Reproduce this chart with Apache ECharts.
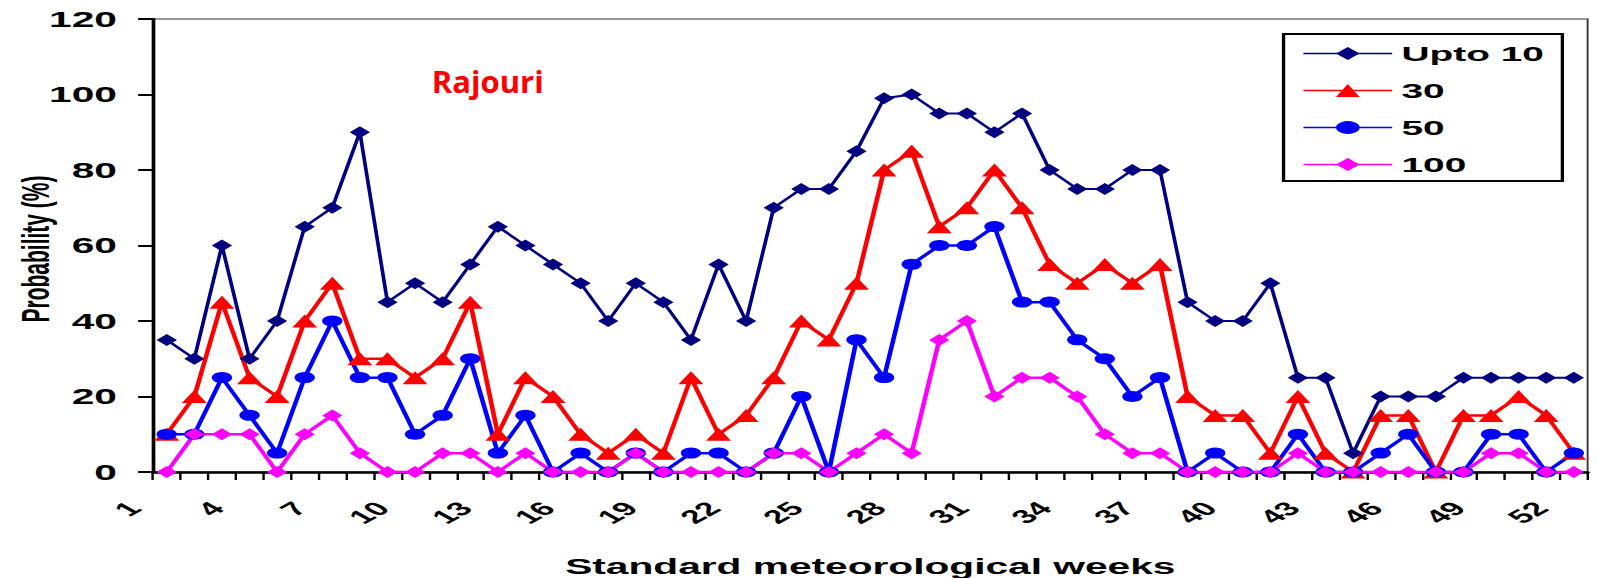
<!DOCTYPE html>
<html><head><meta charset="utf-8">
<script src="https://cdn.jsdelivr.net/npm/echarts@6.0.0/dist/echarts.min.js"></script>
<style>
html,body{margin:0;padding:0;background:#fff;overflow:hidden;}
#c{width:864px;height:578px;transform:scaleX(1.8495);transform-origin:0 0;}
</style></head><body><div id="c"></div>
<script>
// Standard meteorological weeks
const weeks = ['1','2','3','4','5','6','7','8','9','10','11','12','13','14','15','16','17','18','19','20','21','22','23','24','25','26','27','28','29','30','31','32','33','34','35','36','37','38','39','40','41','42','43','44','45','46','47','48','49','50','51','52'];
// Probability (%) per rainfall threshold
const upto10 = [35,30,60,30,40,65,70,90,45,50, 45,55,65,60,55,50,40,50,45,35, 55,40,70,75,75,85,99,100,95,95, 90,95,80,75,75,80,80,45,40,40, 50,25,25,5,20,20,20,25,25,25, 25,25];
const p30    = [10,20,45,25,20,40,50,30,30,25, 30,45,10,25,20,10,5,10,5,25, 10,15,25,40,35,50,80,85,65,70, 80,70,55,50,55,50,55,20,15,15, 5,20,5,0,15,15,0,15,15,20, 15,5];
const p50    = [10,10,25,15,5,25,40,25,25,10, 15,30,5,15,0,5,0,5,0,5, 5,0,5,20,0,35,25,55,60,60, 65,45,45,35,30,20,25,0,5,0, 0,10,0,0,5,10,0,0,10,10, 0,5];
const p100   = [0,10,10,10,0,10,15,5,0,0, 5,5,0,5,0,0,0,5,0,0, 0,0,5,5,0,5,10,5,35,40, 20,25,25,20,10,5,5,0,0,0, 0,5,0,0,0,0,0,0,5,5, 0,0];
const seriesNames = ['Upto 10','30','50','100'];
const yTicks = {min:0, max:120, step:20};

const SX = 1.8495;
const FONT = 'Liberation Sans';
const chart = echarts.init(document.getElementById('c'), null, {renderer:'svg'});

function lineSeries(name, data, color, symbol, size, width){
  return {name, type:'line', data, symbol, symbolSize:size, showAllSymbol:true, clip:false,
    color, itemStyle:{color}, lineStyle:{color, width}, emphasis:{disabled:true}};
}
const GL = 82.7, GR = 5.6, GT = 19, GB = 106, LABEL_DX = 17.5;

chart.setOption({
  animation:false,
  backgroundColor:'#ffffff',
  grid:[
    {left:GL, right:GR, top:GT, bottom:GB, show:true, borderColor:'#333', borderWidth:1, backgroundColor:'transparent', containLabel:false, outerBoundsMode:'none'},
    {left:GL-LABEL_DX, right:GR+LABEL_DX, top:GT, bottom:GB, show:false, containLabel:false, outerBoundsMode:'none'}
  ],
  legend:{
    orient:'vertical', left:694, top:34, padding:[9,10,6,10], itemGap:16,
    itemWidth:48, itemHeight:16, borderColor:'#000', borderWidth:1.8, backgroundColor:'#fff', borderRadius:0,
    textStyle:{fontFamily:FONT, fontWeight:'bold', fontSize:21, color:'#000', lineHeight:20},
    lineStyle:{width:1.5},
    data:seriesNames
  },
  xAxis:[{
    type:'category', data:weeks, boundaryGap:true, gridIndex:0,
    name:'Standard meteorological weeks', nameLocation:'middle', nameGap:83, nameMoveOverlap:false,
    nameTextStyle:{fontFamily:FONT, fontWeight:'bold', fontSize:22, color:'#000'},
    axisLine:{show:true, lineStyle:{color:'#000', width:2.5}},
    axisTick:{show:true, interval:0, length:8, inside:false, lineStyle:{color:'#000', width:1.3}},
    axisLabel:{show:false},
    splitLine:{show:false}
  },{
    type:'category', data:weeks, boundaryGap:true, gridIndex:1,
    axisLine:{show:false}, axisTick:{show:false}, splitLine:{show:false},
    axisLabel:{interval:2, rotate:45, margin:33, fontFamily:FONT, fontWeight:'bold', fontSize:19, color:'#000'}
  }],
  yAxis:[{
    type:'value', min:yTicks.min, max:yTicks.max, interval:yTicks.step, gridIndex:0,
    name:'Probability (%)', nameLocation:'middle', nameGap:53, nameMoveOverlap:false,
    nameTextStyle:{fontFamily:FONT, fontWeight:'bold', fontSize:21, color:'#000', padding:[0,7,0,0]},
    axisLine:{show:true, lineStyle:{color:'#000', width:2}},
    axisTick:{show:true, length:8, inside:false, lineStyle:{color:'#000', width:2}},
    axisLabel:{margin:19.5, fontFamily:FONT, fontWeight:'bold', fontSize:22, color:'#000'},
    splitLine:{show:false}
  },{
    type:'value', min:yTicks.min, max:yTicks.max, gridIndex:1, show:false
  }],
  graphic:[{type:'text', x:233.5, y:81, scaleX:1/SX, z:10,
    style:{text:'Rajouri', fill:'#ff0000', fontFamily:'Open Sans', fontWeight:'bold', fontSize:31, align:'left', verticalAlign:'middle'}}],
  series:[
    lineSeries(seriesNames[0], upto10, '#000080', 'diamond', [11,12], 2),
    lineSeries(seriesNames[1], p30, '#ff0000', 'triangle', [13.5,13], 2.5),
    lineSeries(seriesNames[2], p50, '#0000ff', 'circle', [11,11], 2.5),
    lineSeries(seriesNames[3], p100, '#ff00ff', 'diamond', [11,12], 2.5)
  ]
});
</script></body></html>
